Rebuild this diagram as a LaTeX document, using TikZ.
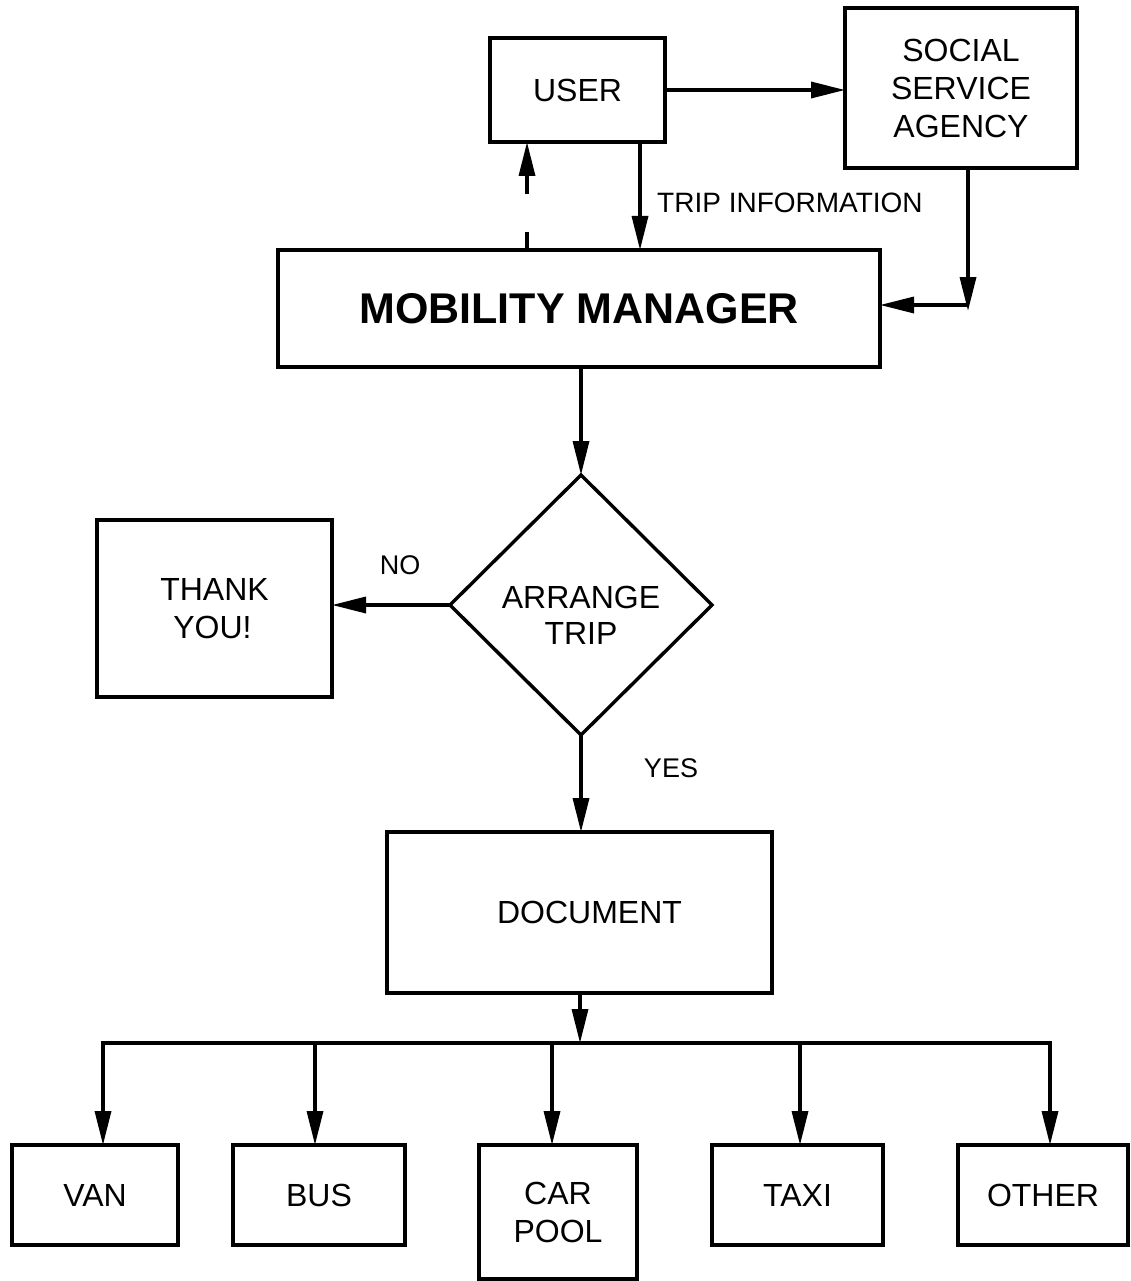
\documentclass[tikz,border=0pt]{standalone}
\usepackage{fontspec}
\setmainfont{Liberation Sans}
\usetikzlibrary{arrows.meta,shapes.geometric}
\begin{document}
\begin{tikzpicture}[x=1pt,y=-1pt,
  box/.style={draw,line width=3.4pt,rectangle,inner sep=0pt,outer sep=0pt,align=center,
    font=\fontsize{32}{38}\selectfont},
  arr/.style={line width=3.4pt,-{Triangle[length=34pt,width=16pt]}},
  lbl/.style={inner sep=0pt,font=\fontsize{27}{32}\selectfont}]
\useasboundingbox (0,0) rectangle (1131,1281);
% nodes
\node[box,minimum width=175,minimum height=104] (user) at (577.5,90) {USER};
\node[box,minimum width=232,minimum height=160] (ssa) at (961,88) {SOCIAL\\SERVICE\\AGENCY};
\node[box,minimum width=602,minimum height=117,font=\fontsize{43}{50}\selectfont\bfseries] (mm) at (579,308.5) {MOBILITY MANAGER};
\node[draw,line width=3.4pt,diamond,minimum width=262,minimum height=260,inner sep=0pt,outer sep=0pt] (dia) at (581,605) {};
\node[inner sep=0pt,align=center,font=\fontsize{32}{36}\selectfont] (diatxt) at (581,615) {ARRANGE\\TRIP};
\node[box,minimum width=235,minimum height=177] (thank) at (214.5,608.5) {THANK\\YOU!\hspace*{4pt}};
\node[box,minimum width=385,minimum height=161] (doc) at (579.5,912.5) {\hspace*{20pt}DOCUMENT};
\node[box,minimum width=166,minimum height=100] (van) at (95,1195) {VAN};
\node[box,minimum width=172,minimum height=100] (bus) at (319,1195) {BUS};
\node[box,minimum width=158,minimum height=134,anchor=north] (car) at (558,1145) {CAR\\POOL};
\node[box,minimum width=171,minimum height=100] (taxi) at (797.5,1195) {TAXI};
\node[box,minimum width=170,minimum height=100] (other) at (1043,1195) {OTHER};
% labels
\node[lbl,font=\fontsize{28}{32}\selectfont,anchor=west] (tripinfo) at (657,203) {TRIP INFORMATION};
\node[lbl] (no) at (400,565) {NO};
\node[lbl] (yes) at (671,768) {YES};
% coordinates
\coordinate (tx) at (640,0);
\coordinate (dx) at (527,0);
\coordinate (j) at (968,305);
\coordinate (bm) at (580,1043);
\coordinate (bl) at (103,1043);
\coordinate (br) at (1050,1043);
\coordinate (b2) at (315,1043);
\coordinate (b3) at (552,1043);
\coordinate (b4) at (800,1043);
% connectors
\draw[arr] (user.east) -- (user.east -| ssa.west);
\draw[arr] (user.south -| tx) -- (mm.north -| tx);
\draw[arr,dash pattern=on 18pt off 38pt on 120pt off 1pt] (mm.north -| dx) -- (user.south -| dx);
\draw[arr] (ssa.south -| j) -- ([yshift=-6pt]j);
\draw[arr] (j) -- (j -| mm.east);
\draw[arr] (mm.south -| dia.north) -- (dia.north);
\draw[arr] (dia.west) -- (dia.west -| thank.east);
\draw[arr] (dia.south) -- (dia.south |- doc.north);
\draw[arr] (doc.south -| bm) -- (bm);
\draw[line width=3.4pt,line cap=rect] (bl) -- (br);
\draw[arr] (bl) -- (bl |- van.north);
\draw[arr] (b2) -- (b2 |- bus.north);
\draw[arr] (b3) -- (b3 |- car.north);
\draw[arr] (b4) -- (b4 |- taxi.north);
\draw[arr] (br) -- (br |- other.north);
\end{tikzpicture}
\end{document}
